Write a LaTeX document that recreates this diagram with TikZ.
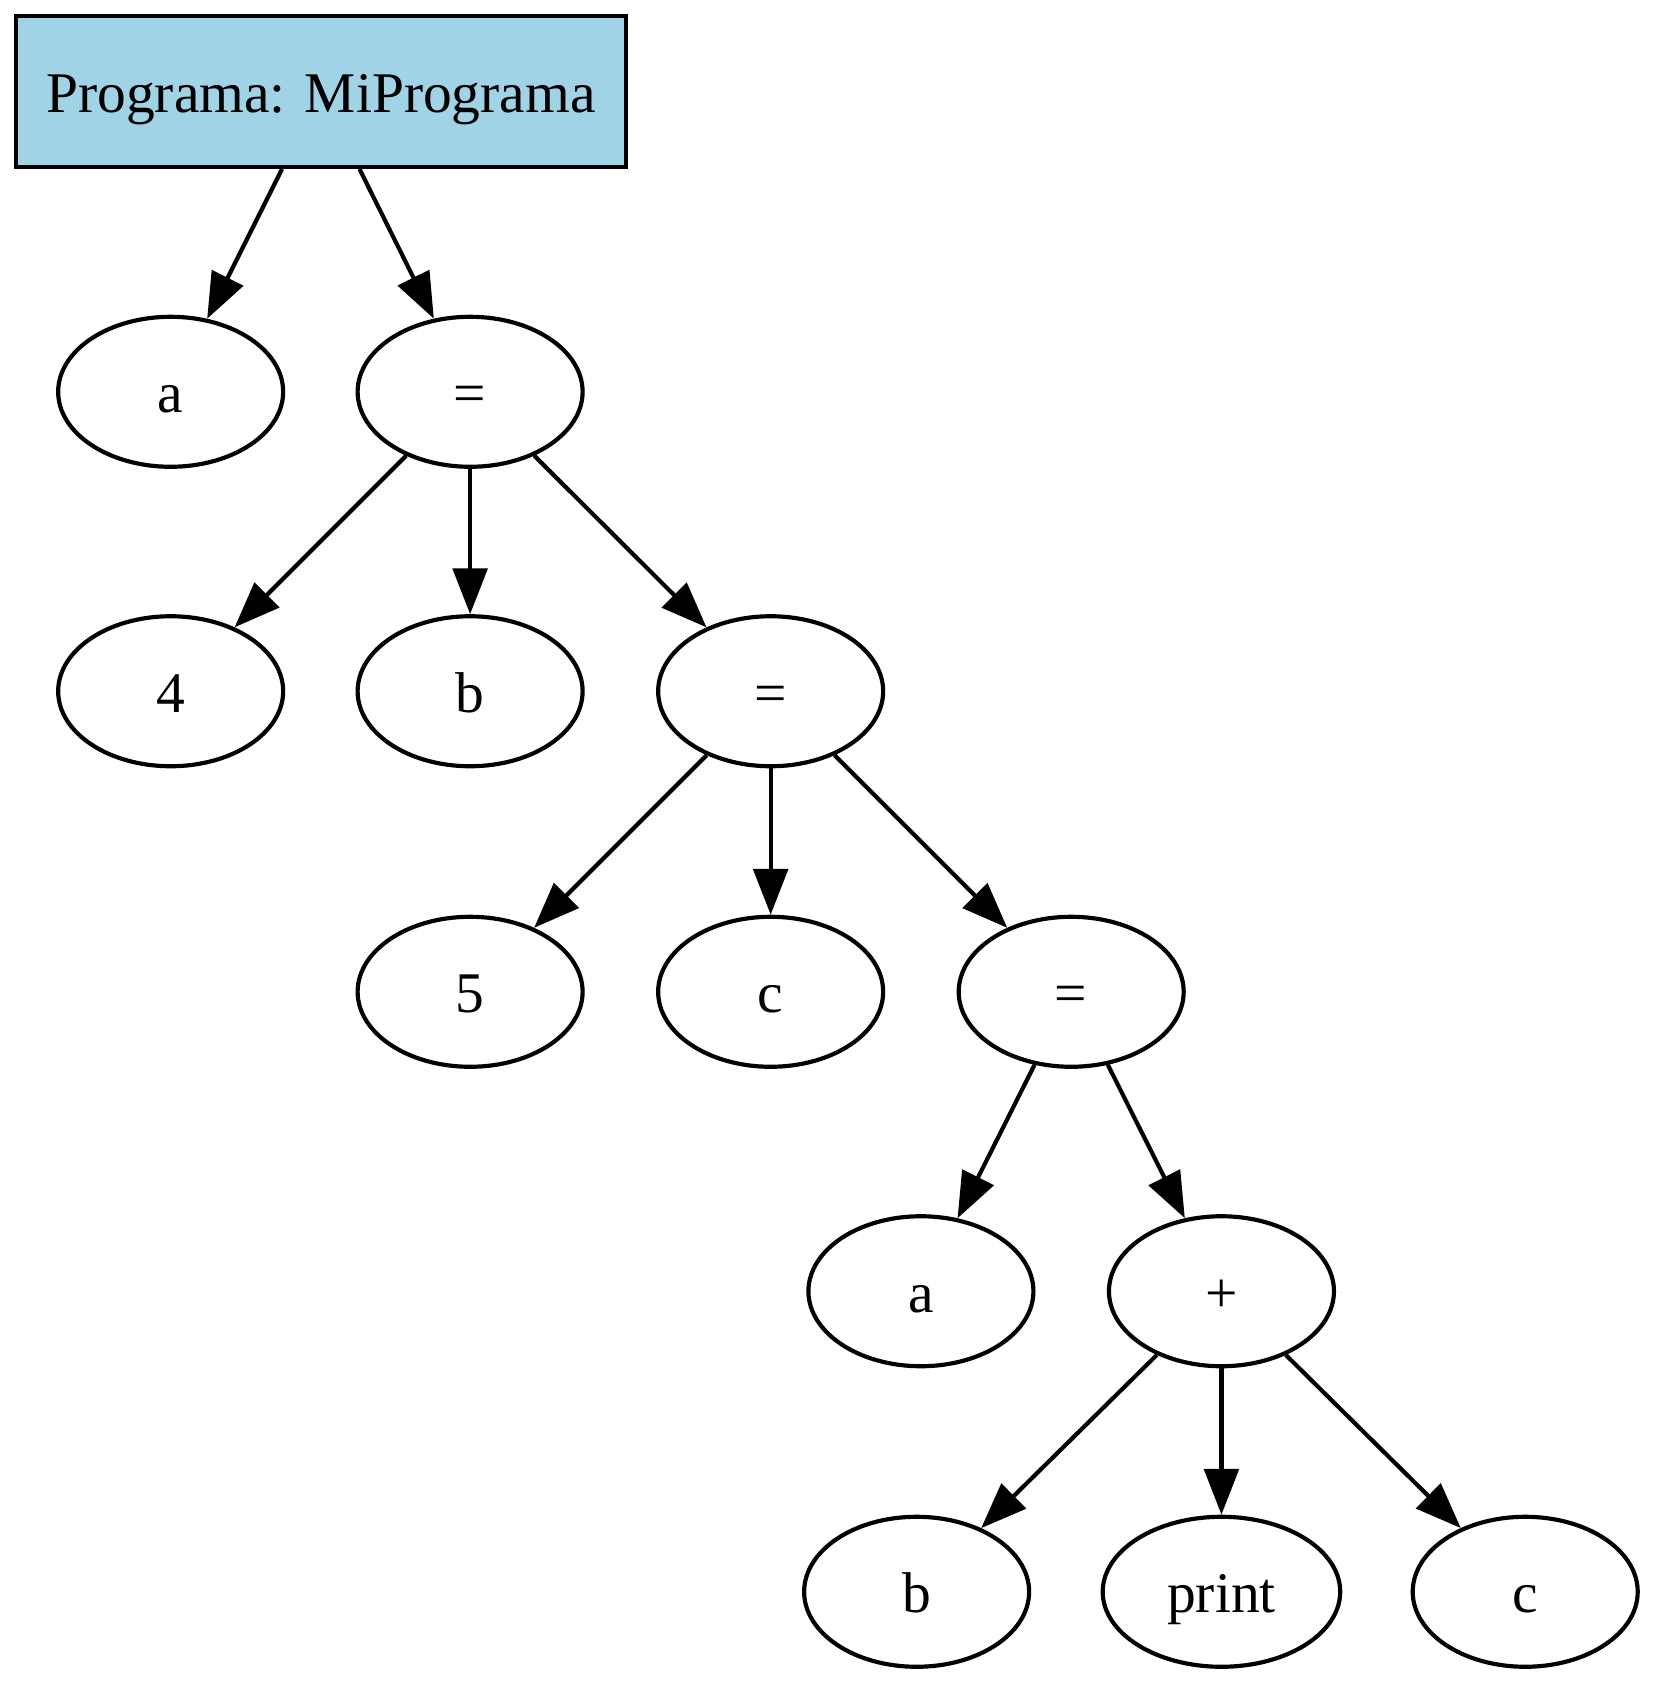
\documentclass[tikz,border=0pt]{standalone}
\usepackage{fontspec}
\setmainfont{Liberation Serif}
\usetikzlibrary{shapes.geometric,arrows.meta}
\definecolor{rootfill}{HTML}{A1D3E7}
\tikzset{
  every node/.style={font=\fontsize{13.8pt}{16pt}\selectfont,text height=11pt,text depth=1pt},
  ell/.style={ellipse,draw,line width=1pt,minimum width=54pt,minimum height=36pt,inner sep=0pt},
  rootbox/.style={rectangle,draw,line width=1pt,fill=rootfill,minimum width=146.3pt,minimum height=36.3pt,inner sep=0pt},
  edge/.style={line width=1pt,-{Triangle[length=11pt,width=8.3pt]}}
}
\begin{document}
\begin{tikzpicture}[x=0.2576pt,y=-0.2576pt]
\useasboundingbox (0,0) rectangle (1542,1568);
\node[rootbox] (root) at (299,85) {Programa: MiPrograma};
\node[ell] (a1) at (159,365) {a};
\node[ell] (eq1) at (438,365) {=};
\node[ell] (n4) at (159,644) {4};
\node[ell] (b1) at (438,644) {b};
\node[ell] (eq2) at (718,644) {=};
\node[ell] (n5) at (438,924) {5};
\node[ell] (c1) at (718,924) {c};
\node[ell] (eq3) at (998,924) {=};
\node[ell] (a2) at (858,1203) {a};
\node[ell] (plus) at (1138,1203) {+};
\node[ell] (b2) at (854,1483) {b};
\node[ell,minimum width=57pt] (print) at (1138,1483) {print};
\node[ell] (c2) at (1421,1483) {c};
\draw[edge] (root) -- (a1);
\draw[edge] (root) -- (eq1);
\draw[edge] (eq1) -- (n4);
\draw[edge] (eq1) -- (b1);
\draw[edge] (eq1) -- (eq2);
\draw[edge] (eq2) -- (n5);
\draw[edge] (eq2) -- (c1);
\draw[edge] (eq2) -- (eq3);
\draw[edge] (eq3) -- (a2);
\draw[edge] (eq3) -- (plus);
\draw[edge] (plus) -- (b2);
\draw[edge] (plus) -- (print);
\draw[edge] (plus) -- (c2);
\end{tikzpicture}
\end{document}
